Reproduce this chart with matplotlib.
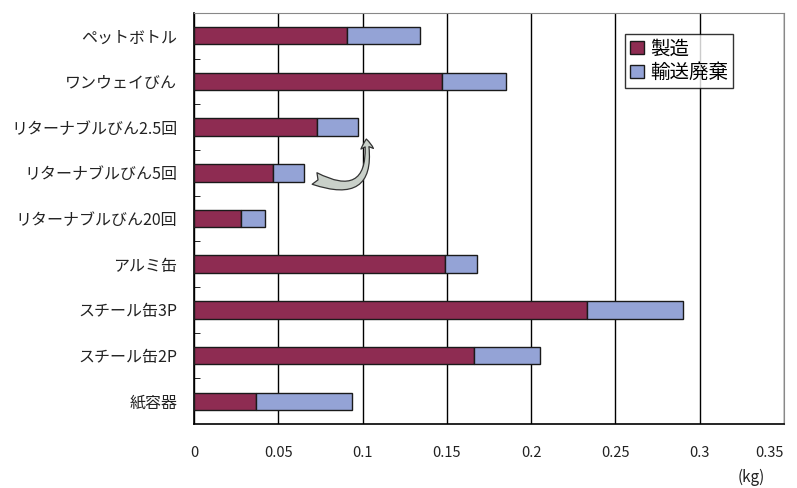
import matplotlib.pyplot as plt
from matplotlib.patches import FancyArrowPatch

plt.rcParams['font.family'] = ['Noto Sans CJK JP', 'DejaVu Sans']

# data (kg)
categories = ['ペットボトル', 'ワンウェイびん', 'リターナブルびん2.5回', 'リターナブルびん5回',
              'リターナブルびん20回', 'アルミ缶', 'スチール缶3P', 'スチール缶2P', '紙容器']
manufacture = [0.091, 0.147, 0.073, 0.047, 0.028, 0.149, 0.233, 0.166, 0.037]
transport_disposal = [0.043, 0.038, 0.024, 0.018, 0.014, 0.019, 0.057, 0.039, 0.057]
xticks = [0, 0.05, 0.1, 0.15, 0.2, 0.25, 0.3, 0.35]
xtick_labels = ['0', '0.05', '0.1', '0.15', '0.2', '0.25', '0.3', '0.35']

fig = plt.figure(figsize=(7.97, 4.88), dpi=100)
ax = fig.add_axes([0.2434, 0.1311, 0.7403, 0.8423])

pos = list(range(len(categories)))
ax.barh(pos, manufacture, height=0.38, color='#8e2c52', edgecolor='#1a1a1a',
        linewidth=1.0, label='製造', zorder=3)
ax.barh(pos, transport_disposal, left=manufacture, height=0.38, color='#94a3d6',
        edgecolor='#1a1a1a', linewidth=1.0, label='輸送廃棄', zorder=3)

ax.set_xlim(0, 0.35)
ax.set_ylim(len(categories) - 0.5, -0.5)
ax.set_xticks(xticks)
ax.set_xticklabels(xtick_labels, fontsize=10.5, color='#222222')
ax.tick_params(axis='x', length=0, pad=16)
ax.xaxis.grid(True, color='black', linewidth=1.0, zorder=1)
# keep the last label inside the figure
ax.get_xticklabels()[-1].set_horizontalalignment('right')
ax.get_xticklabels()[-1].set_x(0.3535)

ax.set_yticks(pos)
ax.set_yticklabels(categories, fontsize=11.5, color='#222222')
ax.tick_params(axis='y', which='major', length=0, pad=12)
ax.set_yticks([p + 0.5 for p in pos[:-1]], minor=True)
ax.tick_params(axis='y', which='minor', length=4, direction='in', color='black')

ax.spines['left'].set_color('black')
ax.spines['bottom'].set_color('black')
ax.spines['left'].set_linewidth(1.2)
ax.spines['bottom'].set_linewidth(1.2)
ax.spines['top'].set_color('#888888')
ax.spines['right'].set_color('#888888')

leg = ax.legend(loc='upper left', bbox_to_anchor=(0.731, 0.95), fontsize=14,
                frameon=True, fancybox=False, edgecolor='black', borderpad=0.25,
                handlelength=0.7, handleheight=0.7, handletextpad=0.35,
                labelspacing=0.15, borderaxespad=0)
leg.get_frame().set_linewidth(1.0)

# curved arrow from 5回 to 2.5回
arrow = FancyArrowPatch((0.070, 3.1), (0.102, 2.2),
                        connectionstyle='arc3,rad=0.9',
                        arrowstyle='fancy,head_length=7,head_width=9,tail_width=9',
                        facecolor='#c9d0c9', edgecolor='#333333', linewidth=0.9,
                        zorder=4)
ax.add_patch(arrow)

fig.text(0.943, 0.012, '(kg)', fontsize=11, color='#222222', ha='center')

fig.savefig('out.png', dpi=100)
